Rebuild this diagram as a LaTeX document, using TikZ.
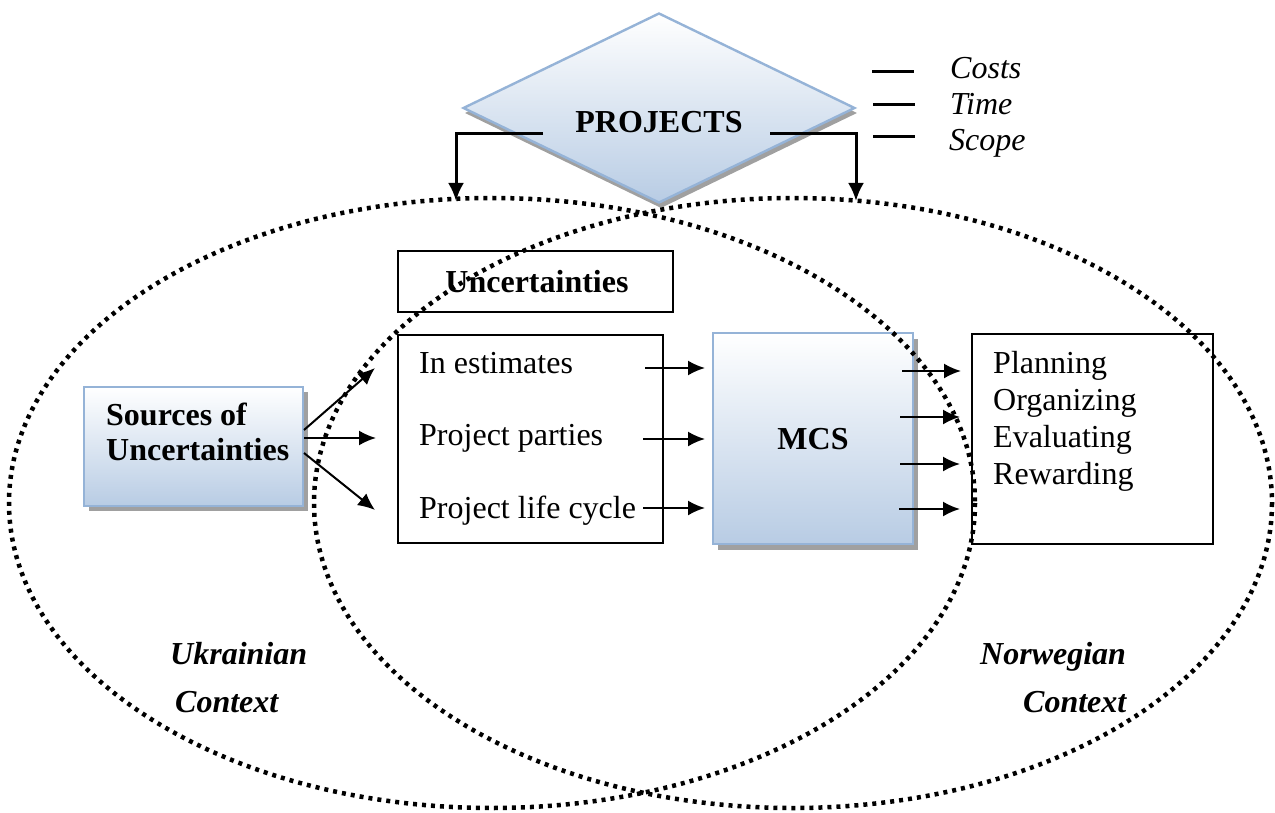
\documentclass[tikz,border=0pt]{standalone}
\usepackage{fontspec}
\setmainfont{Liberation Serif}
\usetikzlibrary{arrows.meta,shapes.geometric}
\definecolor{bluefill}{HTML}{B8CCE4}
\definecolor{blueedge}{HTML}{95B3D7}
\definecolor{shadowgray}{HTML}{A0A0A0}
\begin{document}
\begin{tikzpicture}[x=1pt,y=-1pt,
  txt/.style={font=\fontsize{32}{36}\selectfont, inner sep=0pt, anchor=base west},
  btxt/.style={font=\fontsize{32}{36}\selectfont\bfseries, inner sep=0pt},
  ctxtxt/.style={font=\fontsize{32}{36}\selectfont\bfseries\itshape, inner sep=0pt, anchor=base west},
  itxt/.style={font=\fontsize{32}{36}\selectfont\itshape, inner sep=0pt, anchor=base west},
  plainbox/.style={draw=black, line width=2pt, fill=white, inner sep=0pt},
  bluebox/.style={draw=blueedge, line width=2.4pt, top color=white, bottom color=bluefill, inner sep=0pt},
  shadowbox/.style={fill=shadowgray, draw=none, inner sep=0pt},
  arr/.style={line width=2pt, -{Latex[length=17pt,width=15pt]}},
  parr/.style={line width=3pt, -{Latex[length=18pt,width=16pt]}},
  legline/.style={line width=3pt},
  ctx/.style={draw=black, line width=4.5pt, dash pattern=on 4pt off 5pt},
]
\useasboundingbox (0,0) rectangle (1275,813);

% ---- diamond PROJECTS ----
\node[diamond, shadowbox, minimum width=392pt, minimum height=190pt] (projshadow) at (661,113) {};
\node[diamond, bluebox, minimum width=392pt, minimum height=190pt] (proj) at (659,108) {};
\node[btxt, anchor=base] (projtxt) at (659,133) {PROJECTS};

\coordinate (pl) at (543,134);
\coordinate (pr) at (770,134);
\coordinate (tl) at (456,201);
\coordinate (tr) at (856,201);
\draw[parr] (pl) -| (tl);
\draw[parr] (pr) -| (tr);

% ---- legend ----
\coordinate (l1a) at (872,72);  \coordinate (l1b) at (914,72);
\coordinate (l2a) at (873,105); \coordinate (l2b) at (915,105);
\coordinate (l3a) at (873,137); \coordinate (l3b) at (915,137);
\draw[legline] (l1a) -- (l1b);
\draw[legline] (l2a) -- (l2b);
\draw[legline] (l3a) -- (l3b);
\node[itxt] (costs) at (950,79) {Costs};
\node[itxt] (time) at (950,115) {Time};
\node[itxt] (scope) at (949,151) {Scope};

% ---- Uncertainties box ----
\node[plainbox, minimum width=275pt, minimum height=61pt] (unc) at (535.5,281.5) {};
\node[btxt, anchor=base] (unctxt) at (537,292) {Uncertainties};

% ---- middle box ----
\node[plainbox, minimum width=265pt, minimum height=208pt] (mid) at (530.5,439) {};
\node[txt] (m1) at (419,373) {In estimates};
\node[txt] (m2) at (419,445) {Project parties};
\node[txt] (m3) at (419,518) {Project life cycle};

% ---- Sources box ----
\node[shadowbox, minimum width=219pt, minimum height=119pt] (srcshadow) at (198.5,451.5) {};
\node[bluebox, minimum width=219pt, minimum height=119pt] (src) at (193.5,446.5) {};
\node[btxt, anchor=base west] (src1) at (106,425) {Sources of};
\node[btxt, anchor=base west] (src2) at (106,460) {Uncertainties};

% ---- MCS box ----
\node[shadowbox, minimum width=200pt, minimum height=211pt] (mcsshadow) at (818,444.5) {};
\node[bluebox, minimum width=200pt, minimum height=211pt] (mcs) at (813,438.5) {};
\node[btxt, anchor=base] (mcstxt) at (813,449) {MCS};

% ---- right box ----
\node[plainbox, minimum width=241pt, minimum height=210pt] (fun) at (1092.5,439) {};
\node[txt] (f1) at (993,373) {Planning};
\node[txt] (f2) at (993,410) {Organizing};
\node[txt] (f3) at (993,447) {Evaluating};
\node[txt] (f4) at (993,484) {Rewarding};

% ---- arrows sources -> middle ----
\coordinate (s1) at (304,430); \coordinate (e1) at (375,368);
\coordinate (s2) at (304,438); \coordinate (e2) at (376,438);
\coordinate (s3) at (304,453); \coordinate (e3) at (375,510);
\draw[arr] (s1) -- (e1);
\draw[arr] (s2) -- (e2);
\draw[arr] (s3) -- (e3);

% ---- arrows middle -> MCS ----
\coordinate (a1) at (645,368); \coordinate (b1) at (705,368);
\coordinate (a2) at (643,439); \coordinate (b2) at (705,439);
\coordinate (a3) at (643,508); \coordinate (b3) at (705,508);
\draw[arr] (a1) -- (b1);
\draw[arr] (a2) -- (b2);
\draw[arr] (a3) -- (b3);

% ---- arrows MCS -> right box ----
\coordinate (c1) at (902,371); \coordinate (d1) at (961,371);
\coordinate (c2) at (900,417); \coordinate (d2) at (960,417);
\coordinate (c3) at (900,464); \coordinate (d3) at (960,464);
\coordinate (c4) at (899,509); \coordinate (d4) at (960,509);
\draw[arr] (c1) -- (d1);
\draw[arr] (c2) -- (d2);
\draw[arr] (c3) -- (d3);
\draw[arr] (c4) -- (d4);

% ---- contexts ----
\node[ctxtxt] (ukr) at (170,664) {Ukrainian};
\node[ctxtxt] (ukrc) at (175,712) {Context};
\node[ctxtxt] (nor) at (980,664) {Norwegian};
\node[ctxtxt] (norc) at (1023,712) {Context};

\coordinate (lc) at (492,503);
\coordinate (rc) at (793,503);
\draw[ctx] (lc) ellipse [x radius=483, y radius=305];
\draw[ctx] (rc) ellipse [x radius=479, y radius=305];
\end{tikzpicture}
\end{document}
